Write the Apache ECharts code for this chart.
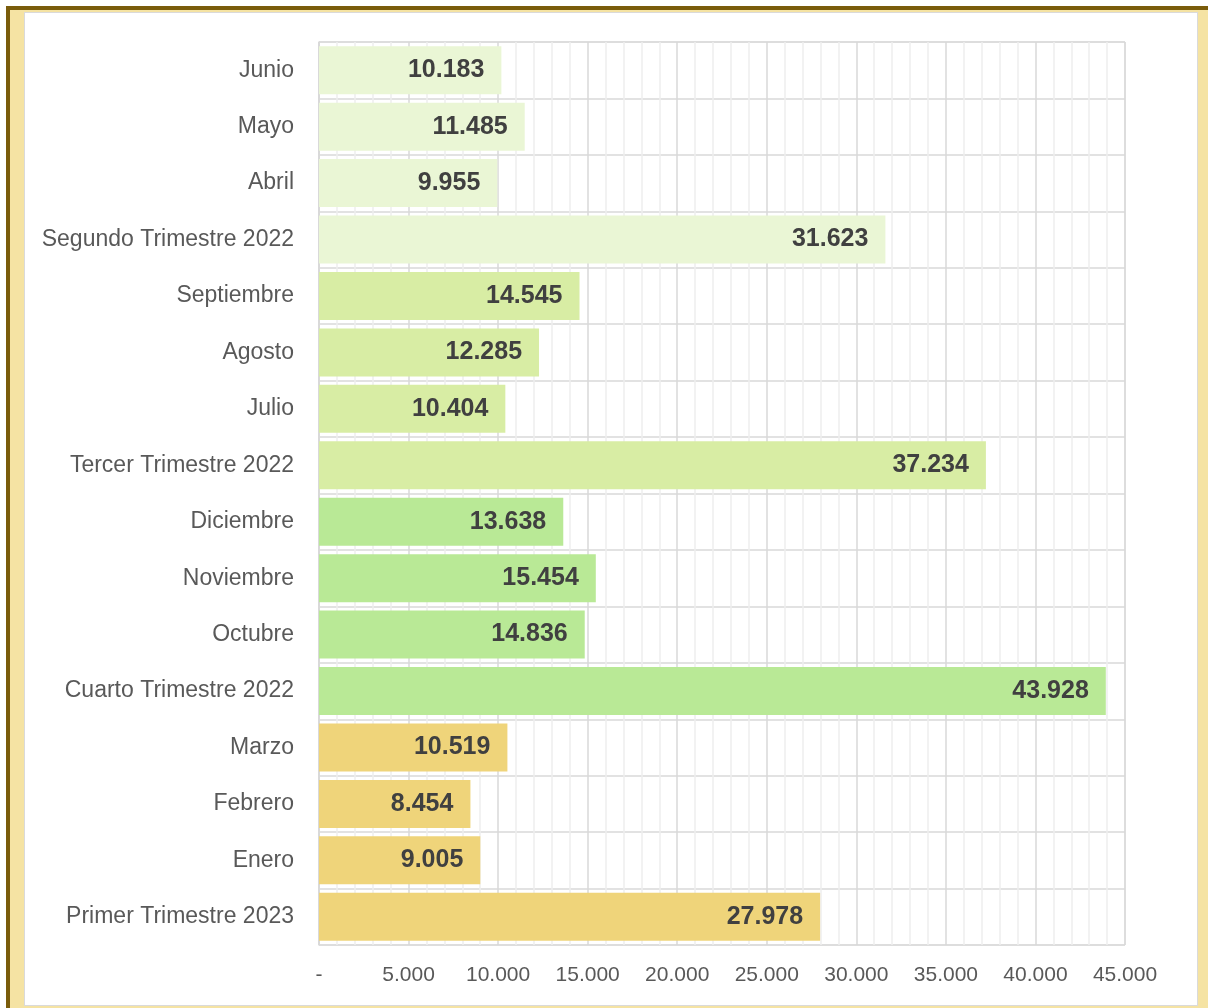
<!DOCTYPE html>
<html>
<head>
<meta charset="utf-8">
<title>Trimestres</title>
<script src="https://cdn.jsdelivr.net/npm/echarts@6/dist/echarts.min.js"></script>
<style>
	html, body { margin: 0; padding: 0; background: #fff; }
	#frame { position: absolute; left: 6px; top: 6px; width: 1198px; height: 998px; background: #F5E3A3; border-left: 4px solid #7A5C0B; border-top: 4px solid #7A5C0B; }
	#panel { position: absolute; left: 24px; top: 12px; width: 1172px; height: 992px; background: #fff; border: 1px solid #DADADA; }
	#main { position: absolute; left: 0; top: 0; width: 1208px; height: 1008px; }
</style>
</head>
<body>
<div id="frame"></div>
<div id="panel"></div>
<div id="main"></div>
<script>
	// de abajo hacia arriba
	var categorias = ["Primer Trimestre 2023", "Enero", "Febrero", "Marzo",
		"Cuarto Trimestre 2022", "Octubre", "Noviembre", "Diciembre",
		"Tercer Trimestre 2022", "Julio", "Agosto", "Septiembre",
		"Segundo Trimestre 2022", "Abril", "Mayo", "Junio"];
	var valores = [27978, 9005, 8454, 10519,
		43928, 14836, 15454, 13638,
		37234, 10404, 12285, 14545,
		31623, 9955, 11485, 10183];
	var grupos = [0, 0, 0, 0, 1, 1, 1, 1, 2, 2, 2, 2, 3, 3, 3, 3];
	var coloresGrupo = ["#EFD47A", "#B9E996", "#D8EDA4", "#EAF6D5"];

	var fuente = 'Liberation Sans Narrow, Arial Narrow, sans-serif';

	function miles(v) {
		if(v === 0) return "-";
		return String(v).replace(/\B(?=(\d{3})+(?!\d))/g, ".");
	}

	var datos = valores.map(function(v, i) {
		return { value: v, itemStyle: { color: coloresGrupo[grupos[i]] } };
	});

	var chart = echarts.init(document.getElementById('main'));
	chart.setOption({
		animation: false,
		grid: { left: 319, top: 42, right: 83, bottom: 63, show: true, borderColor: '#D9D9D9', borderWidth: 1 },
		xAxis: {
			type: 'value', min: 0, max: 45000, interval: 5000,
			axisLine: { show: false }, axisTick: { show: false },
			axisLabel: { formatter: miles, color: '#595959', fontSize: 21, fontFamily: fuente, margin: 20 },
			splitLine: { show: true, lineStyle: { color: '#D9D9D9', width: 1.5 } },
			minorTick: { show: false, splitNumber: 5 },
			minorSplitLine: { show: true, lineStyle: { color: '#EEEEEE', width: 1.5 } }
		},
		yAxis: {
			type: 'category', data: categorias,
			axisLine: { show: true, lineStyle: { color: '#D9D9D9', width: 1.5 } },
			axisTick: { show: false },
			splitLine: { show: true, lineStyle: { color: '#D9D9D9', width: 1.5 } },
			axisLabel: { color: '#595959', fontSize: 23, fontFamily: fuente, margin: 25 }
		},
		series: [{
			type: 'bar', data: datos, barCategoryGap: '15%',
			label: {
				show: true, position: 'insideRight', distance: 17,
				formatter: function(p) { return miles(p.value); },
				color: '#404040', fontSize: 25, fontWeight: 'bold',
				fontFamily: fuente
			}
		}]
	});
</script>
</body>
</html>
